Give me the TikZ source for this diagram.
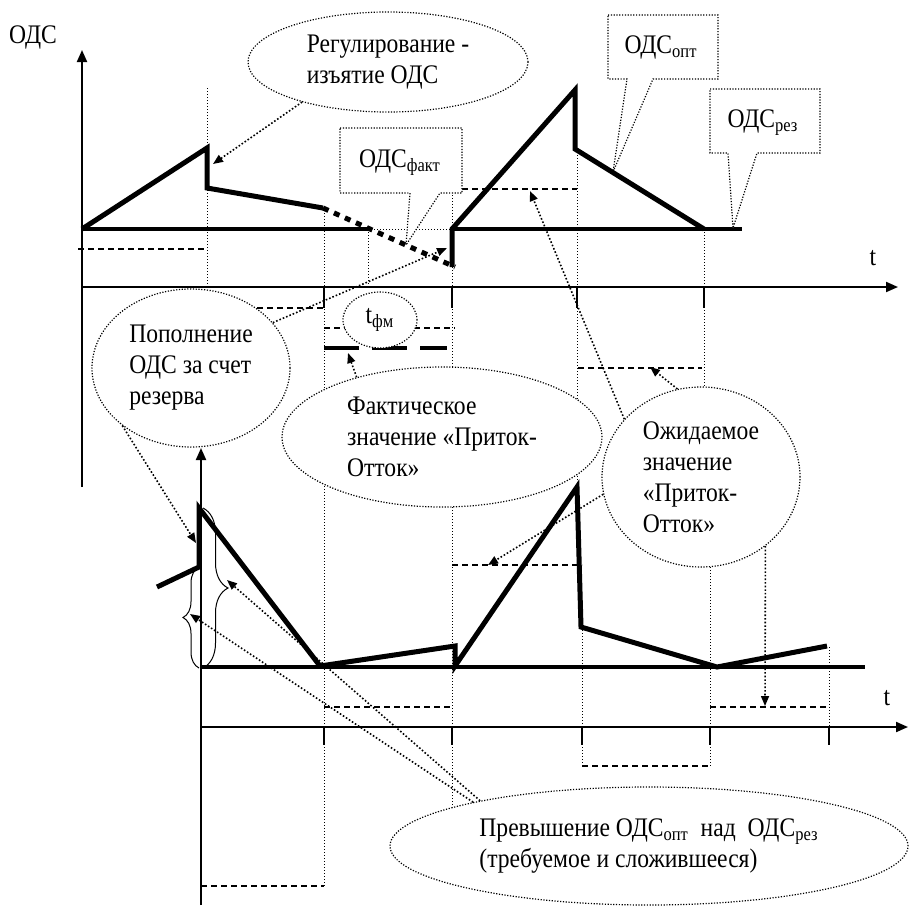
\documentclass[tikz,border=0pt]{standalone}
\usepackage{fontspec}
\setmainfont{Liberation Serif}[FakeStretch=0.88]
\usetikzlibrary{positioning,shapes.geometric,arrows.meta,decorations.pathreplacing}

\begin{document}
\begin{tikzpicture}[x=0.5pt,y=-0.5pt,
  txt/.style={font=\fontsize{13.4}{15.5}\selectfont},
  curve/.style={line width=2.5pt},
  level/.style={line width=2pt},
  axis/.style={line width=1pt,-{Triangle[length=6pt,width=5pt]}},
  tick/.style={line width=1pt},
  guide/.style={line width=0.5pt,dash pattern=on 0.5pt off 1pt},
  stepval/.style={line width=0.7pt,dash pattern=on 3pt off 2pt},
  bubble/.style={ellipse,draw,fill=white,line width=0.6pt,dash pattern=on 0.6pt off 0.8pt,inner sep=0pt,align=left,txt},
  callbox/.style={draw,fill=white,line width=0.6pt,dash pattern=on 0.6pt off 0.8pt},
  pointer/.style={line width=0.8pt,dash pattern=on 0.8pt off 1pt,-{Triangle[length=5pt,width=4pt]}},
  brace/.style={decorate,line width=0.5pt}]
\useasboundingbox (0,0) rectangle (909,905);
% time marks
\draw[guide] (207,88) -- (207,287);
\draw[guide] (324,213) -- (324,886);
\draw[guide] (368,229) -- (368,287);
\draw[guide] (368,229) -- (452,229);
\draw[guide] (452,189) -- (452,810);
\draw[guide] (577,149) -- (577,487);
\draw[guide] (582,627) -- (582,766);
\draw[guide] (704,229) -- (704,480);
\draw[guide] (710,480) -- (710,766);
\draw[guide] (829,647) -- (829,745);
% inflow - outflow, upper
\draw[stepval] (78,249) -- (207,249);
\draw[stepval] (207,308) -- (324,308);
\draw[stepval] (324,328) -- (455,328);
\draw[stepval] (452,189) -- (577,189);
\draw[stepval] (578,368) -- (702,368);
\draw[line width=2pt,dash pattern=on 17.5pt off 6.5pt] (324,348) -- (447,348);
% inflow - outflow, lower
\draw[stepval] (201,886) -- (324,886);
\draw[stepval] (324,707) -- (452,707);
\draw[stepval] (452,565) -- (582,565);
\draw[stepval] (582,766) -- (710,766);
\draw[stepval] (710,707) -- (829,707);
% axes
\draw[axis] (82,487) -- (82,50);
\draw[axis] (82,287) -- (898,287);
\draw[axis] (201,905) -- (201,448);
\draw[axis] (201,727) -- (908,727);
\draw[tick] (324,287) -- (324,308);
\draw[tick] (452,287) -- (452,308);
\draw[tick] (577,287) -- (577,308);
\draw[tick] (704,287) -- (704,308);
\draw[tick] (324,727) -- (324,745);
\draw[tick] (452,727) -- (452,745);
\draw[tick] (582,727) -- (582,745);
\draw[tick] (710,727) -- (710,745);
\draw[tick] (829,727) -- (829,745);
% upper graph
\draw[level] (82,229) -- (368,229);
\draw[level] (452,229) -- (742,229);
\draw[curve] (82,229) -- (207,148) -- (207,188) -- (323,208);
\draw[curve,dash pattern=on 3pt off 3pt] (323,208) -- (455,267);
\draw[curve] (452,267) -- (452,229) -- (575,90) -- (575,149) -- (704,229);
% lower graph
\draw[level] (201,667) -- (865,667);
\draw[curve] (157,587) -- (199,567) -- (199,508) -- (320,666) -- (455,646) -- (455,666) -- (577,487) -- (581,627) -- (717,667) -- (827,646);
\draw[brace,decoration={brace,amplitude=12.5pt}] (203,508) -- (203,668);
\draw[brace,decoration={brace,amplitude=8pt}] (199,668) -- (199,567);
% notes
\node[bubble,minimum width=140pt,minimum height=50pt] (reg) at (388,62) {Регулирование -\\изъятие ОДС};
\node[bubble,minimum width=99pt,minimum height=79pt] (refill) at (191,368) {Пополнение\\ОДС за счет\\резерва};
\node[bubble,minimum width=37pt,minimum height=28pt] (tfm) at (380,320) {t\textsubscript{фм}};
\node[bubble,minimum width=160pt,minimum height=70pt] (fact) at (442,437) {Фактическое\\значение «Приток-\\Отток»};
\node[bubble,minimum width=99pt,minimum height=90pt] (expect) at (701,477) {Ожидаемое\\значение\\«Приток-\\Отток»};
\node[bubble,minimum width=259pt,minimum height=59pt] (excess) at (649,846) {Превышение ОДС\textsubscript{опт}\ \ над\ \ ОДС\textsubscript{рез}\\(требуемое и сложившееся)};
\draw[callbox] (340,128) -- (462,128) -- (462,193) -- (440,193) -- (406,245) -- (410,193) -- (340,193) -- cycle;
\node[txt,anchor=base] (factlbl) at (400,167) {ОДС\textsubscript{факт}};
\draw[callbox] (608,15) -- (718,15) -- (718,79) -- (653,79) -- (613,172) -- (627,79) -- (608,79) -- cycle;
\node[txt,anchor=base] (optlbl) at (661,53) {ОДС\textsubscript{опт}};
\draw[callbox] (710,89) -- (820,89) -- (820,153) -- (757,153) -- (733,228) -- (728,153) -- (710,153) -- cycle;
\node[txt,anchor=base] (rezlbl) at (763,127) {ОДС\textsubscript{рез}};
% pointers
\coordinate (cut) at (213,164);
\coordinate (gap) at (447,248);
\coordinate (jump) at (196,543);
\coordinate (factval) at (348,353);
\coordinate (expup) at (530,191);
\coordinate (expmid) at (650,367);
\coordinate (explow) at (488,565);
\coordinate (expend) at (765,706);
\coordinate (lbrace) at (190,614);
\coordinate (rbrace) at (227,580);
\draw[pointer] (reg.205) -- (cut);
\draw[pointer] (refill.29) -- (gap);
\draw[pointer] (refill.220) -- (jump);
\draw[pointer] (fact.145) -- (factval);
\draw[pointer] (expect.143) -- (expup);
\draw[pointer] (expect.105) -- (expmid);
\draw[pointer] (expect.190) -- (explow);
\draw[pointer] (expect.313) -- (expend);
\draw[pointer] (excess.166) -- (lbrace);
\draw[pointer] (excess.165) -- (rbrace);
% labels
\node[txt,anchor=base] (odslbl) at (33,43) {ОДС};
\node[txt,anchor=base] (tup) at (873,265) {t};
\node[txt,anchor=base] (tlow) at (887,705) {t};
\end{tikzpicture}
\end{document}
